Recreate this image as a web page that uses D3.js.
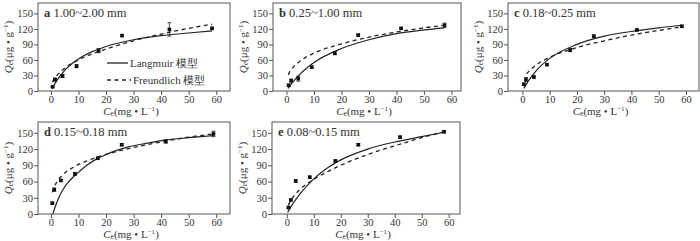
<!DOCTYPE html>
<html>
<head>
<meta charset="utf-8">
<script src="https://cdn.jsdelivr.net/npm/d3@7"></script>
<style>
  html, body { margin: 0; padding: 0; background: #fff; }
  svg { display: block; }
  svg text { font-family: "Liberation Serif", "Times New Roman", "DejaVu Serif", serif; fill: #333; }
</style>
</head>
<body>
<svg id="chart" width="700" height="241"></svg>
<script>
// tick labels
const xTicks = [0, 10, 20, 30, 40, 50, 60];
const yTicks = [0, 30, 60, 90, 120, 150];

// panel captions
const letters = ['a', 'b', 'c', 'd', 'e'];
const sizes = ['1.00~2.00 mm', '0.25~1.00 mm', '0.18~0.25 mm', '0.15~0.18 mm', '0.08~0.15 mm'];

// measured points: Ce (mg/L), Qe (ug/g), error
const ceA = [0.6, 1.5, 4.2, 9.3, 17.3, 25.8, 43, 58.5];
const qeA = [8, 22, 29, 48, 78, 107, 119, 121];
const erA = [1, 3, 3, 3, 4, 2, 13, 2];
const ceB = [0.8, 1.7, 4.3, 9.2, 17.6, 26.1, 41.7, 57.5];
const qeB = [11, 20, 24, 46, 73, 108, 121, 127];
const erB = [2, 3, 5, 2, 3, 2, 2, 4];
const ceC = [0.5, 1.3, 4.2, 9, 17.5, 26.2, 42, 58.5];
const qeC = [13, 22, 27, 51, 79, 106, 118, 125];
const erC = [2, 4, 2, 2, 3, 2, 2, 2];
const ceD = [0.5, 1.2, 3.6, 8.7, 17, 25.7, 41.7, 59];
const qeD = [20, 45, 62, 74, 103, 128, 134, 148];
const erD = [2, 3, 2, 3, 2, 2, 3, 5];
const ceE = [0.6, 1.5, 3.3, 8.5, 18, 26.5, 42, 58.3];
const qeE = [12, 26, 61, 68, 98, 128, 142, 152];
const erE = [2, 2, 2, 2, 2, 2, 2, 2];

// fitted curves: [Ce, Qe]
const langA = [[0.5, 5], [1, 10], [2, 19], [5, 40], [10, 62], [15, 76], [20, 86], [30, 99], [40, 107], [50, 112], [58.5, 116]];
const freuA = [[0.6, 17], [1, 22], [2, 29], [5, 44], [10, 60], [20, 81], [30, 97], [40, 110], [50, 121], [58.5, 129]];
const langB = [[0.6, 5], [1, 8], [2, 15], [5, 33], [10, 55], [20, 82], [30, 99], [40, 111], [50, 118], [57.5, 122]];
const freuB = [[0.7, 31], [1, 35], [2, 43], [5, 58], [10, 73], [20, 91], [30, 104], [40, 114], [50, 122], [57.5, 127]];
const langC = [[0.5, 5], [1, 9], [2, 18], [5, 39], [10, 63], [20, 90], [30, 106], [40, 115], [50, 122], [58.5, 127]];
const freuC = [[1.5, 33], [2, 36], [5, 50], [10, 65], [20, 84], [30, 97], [40, 108], [50, 117], [58.5, 124]];
const langD = [[0.7, 0], [1, 5], [2, 20], [4, 42], [6, 57], [8, 68], [10, 77], [13, 90], [16, 100], [20, 110], [27.5, 123], [35, 131], [42, 137], [50, 141], [59, 145]];
const freuD = [[0.5, 40], [1, 48], [2, 58], [4, 71], [8, 86], [13, 98], [20, 110], [30, 123], [42, 135], [50, 142], [59, 148]];
const langE = [[0.3, 3], [1, 9], [2, 17], [5, 38], [10, 65], [15, 85], [20, 100], [30, 120], [40, 133], [50, 143], [58.3, 151]];
const freuE = [[0.6, 16], [1, 21], [2, 29], [5, 46], [10, 64], [15, 78], [20, 90], [30, 110], [40, 126], [50, 141], [58.3, 152]];

// panel frames in pixels
const frames = [
  { x0: 38, x1: 230, y0: 3, y1: 91, xd: [-4.7, 65] },
  { x0: 273, x1: 461, y0: 3, y1: 91, xd: [-4.9, 63.5] },
  { x0: 508, x1: 699, y0: 3, y1: 91, xd: [-5.3, 64.8] },
  { x0: 38, x1: 230, y0: 122, y1: 214, xd: [-4.7, 65] },
  { x0: 272, x1: 460, y0: 122, y1: 214, xd: [-5.5, 64.2] }
];

const panels = [
  { ce: ceA, qe: qeA, er: erA, lang: langA, freu: freuA },
  { ce: ceB, qe: qeB, er: erB, lang: langB, freu: freuB },
  { ce: ceC, qe: qeC, er: erC, lang: langC, freu: freuC },
  { ce: ceD, qe: qeD, er: erD, lang: langD, freu: freuD },
  { ce: ceE, qe: qeE, er: erE, lang: langE, freu: freuE }
];

const svg = d3.select('#chart');
svg.append('rect').attr('width', 700).attr('height', 241).attr('fill', '#fff');

const ink = '#222';
const frameColor = '#555';
const serif = '"Liberation Serif", "Times New Roman", serif';

panels.forEach((p, i) => {
  const f = frames[i];
  const x = d3.scaleLinear().domain(f.xd).range([f.x0, f.x1]);
  const y = d3.scaleLinear().domain([0, 170]).range([f.y1, f.y0]);
  const g = svg.append('g');

  // axes
  const ax = g.append('g')
    .attr('transform', `translate(0,${f.y1})`)
    .call(d3.axisBottom(x).tickValues(xTicks).tickSize(4).tickPadding(1));
  const ay = g.append('g')
    .attr('transform', `translate(${f.x0},0)`)
    .call(d3.axisLeft(y).tickValues(yTicks).tickSize(4).tickPadding(1));
  [ax, ay].forEach(a => {
    a.attr('font-family', serif);
    a.select('.domain').remove();
    a.selectAll('line').attr('stroke', frameColor);
    a.selectAll('text').attr('font-size', 10.5).attr('fill', '#333');
  });

  g.append('rect')
    .attr('x', f.x0).attr('y', f.y0)
    .attr('width', f.x1 - f.x0).attr('height', f.y1 - f.y0)
    .attr('fill', 'none').attr('stroke', frameColor).attr('stroke-width', 1);

  // curves
  const line = d3.line().x(d => x(d[0])).y(d => y(d[1])).curve(d3.curveMonotoneX);
  g.append('path').attr('d', line(p.freu))
    .attr('fill', 'none').attr('stroke', ink).attr('stroke-width', 1.3)
    .attr('stroke-dasharray', '4,3.5');
  g.append('path').attr('d', line(p.lang))
    .attr('fill', 'none').attr('stroke', ink).attr('stroke-width', 1.2);

  // error bars + points
  const pts = p.ce.map((c, k) => ({ c, q: p.qe[k], e: p.er[k] }));
  const eb = g.append('g').attr('stroke', ink).attr('stroke-width', 0.8);
  pts.forEach(d => {
    eb.append('line').attr('x1', x(d.c)).attr('x2', x(d.c))
      .attr('y1', y(d.q - d.e)).attr('y2', y(d.q + d.e));
    [d.q - d.e, d.q + d.e].forEach(v => {
      eb.append('line').attr('x1', x(d.c) - 2).attr('x2', x(d.c) + 2)
        .attr('y1', y(v)).attr('y2', y(v));
    });
  });
  g.append('g').selectAll('rect').data(pts).join('rect')
    .attr('x', d => x(d.c) - 1.8).attr('y', d => y(d.q) - 1.8)
    .attr('width', 3.6).attr('height', 3.6).attr('fill', '#111');

  // caption
  const t = g.append('text')
    .attr('x', f.x0 + 6).attr('y', f.y0 + 14)
    .attr('font-size', 12.5);
  t.append('tspan').attr('font-weight', 'bold').text(letters[i]);
  t.append('tspan').text(' ' + sizes[i]);

  // axis titles
  const cx = (f.x0 + f.x1) / 2 - 3;
  const xl = g.append('text')
    .attr('x', cx).attr('y', f.y1 + 23.5)
    .attr('text-anchor', 'middle').attr('font-size', 11);
  xl.append('tspan').attr('font-style', 'italic').text('C');
  xl.append('tspan').attr('font-size', 7.5).attr('dy', 1.5).text('e');
  xl.append('tspan').attr('dy', -1.5).text('(mg • L');
  xl.append('tspan').attr('font-size', 7).attr('dy', -3.5).text('−1');
  xl.append('tspan').attr('dy', 3.5).text(')');

  const cy = (f.y0 + f.y1) / 2;
  const yl = g.append('text')
    .attr('transform', `translate(${f.x0 - 26.5},${cy}) rotate(-90)`)
    .attr('text-anchor', 'middle').attr('font-size', 11);
  yl.append('tspan').attr('font-style', 'italic').text('Q');
  yl.append('tspan').attr('font-size', 7.5).attr('dy', 1.5).text('e');
  yl.append('tspan').attr('dy', -1.5).text('(μg • g');
  yl.append('tspan').attr('font-size', 7).attr('dy', -3.5).text('−1');
  yl.append('tspan').attr('dy', 3.5).text(')');

  // legend only in first panel
  if (i === 0) {
    const lg = g.append('g');
    lg.append('line').attr('x1', 107).attr('x2', 128).attr('y1', 63).attr('y2', 63)
      .attr('stroke', ink).attr('stroke-width', 1.3);
    lg.append('text').attr('x', 130).attr('y', 67).attr('font-size', 11).text('Langmuir 模型');
    lg.append('line').attr('x1', 107).attr('x2', 131).attr('y1', 80).attr('y2', 80)
      .attr('stroke', ink).attr('stroke-width', 1.3).attr('stroke-dasharray', '4,3.5');
    lg.append('text').attr('x', 133).attr('y', 84).attr('font-size', 11).text('Freundlich 模型');
  }
});
</script>
</body>
</html>
